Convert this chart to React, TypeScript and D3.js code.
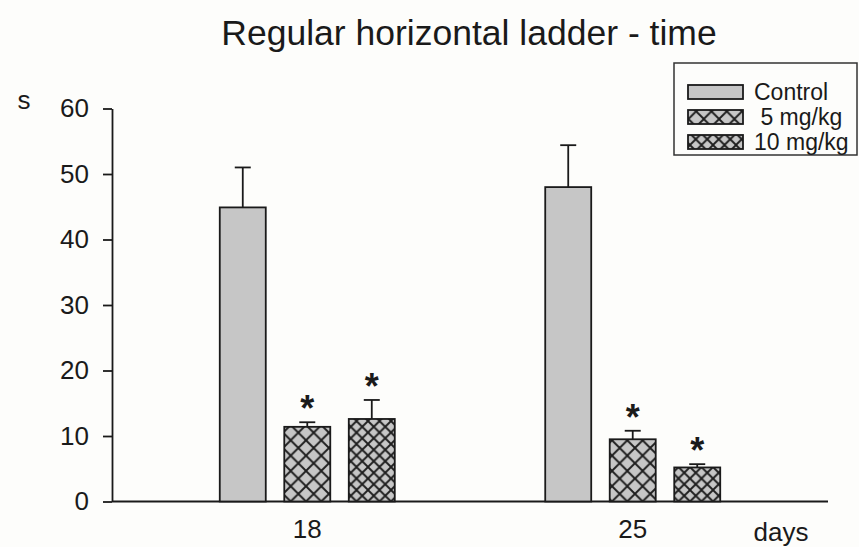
import React, { useEffect, useRef } from 'react';
import * as d3 from 'd3';

// data
const days = ['18', '25'];
const groups = ['Control', ' 5 mg/kg', '10 mg/kg'];
const controlMeans = [44.9, 48.0];
const controlErr = [6.1, 6.4];
const low5Means = [11.4, 9.5];
const low5Err = [0.7, 1.3];
const high10Means = [12.6, 5.2];
const high10Err = [2.9, 0.5];
const significant = [[false, false], [true, true], [true, true]];
const yTicks = [0, 10, 20, 30, 40, 50, 60];

const W = 859;
const H = 547;
const margin = { top: 108.5, right: 31, bottom: 45.5, left: 112 };
const FONT = '"Liberation Sans", Arial, sans-serif';
const INK = '#1a1a1a';
const fills = ['url(#solid)', 'url(#hatch5)', 'url(#hatch10)'];

const App: React.FC = () => {
  const svgRef = useRef<SVGSVGElement>(null);

  useEffect(() => {
    if (!svgRef.current) return;
    const svg = d3.select(svgRef.current);
    svg.selectAll('*').remove();

    const means = [controlMeans, low5Means, high10Means];
    const errs = [controlErr, low5Err, high10Err];

    const x0 = d3.scalePoint<string>()
      .domain(days)
      .range([margin.left, W - margin.right])
      .padding(0.6);
    const x1 = d3.scaleBand<string>()
      .domain(groups)
      .range([-87.5, 87.5])
      .paddingInner(0.287)
      .paddingOuter(0);
    const y = d3.scaleLinear()
      .domain([0, 60])
      .range([H - margin.bottom, margin.top]);

    // patterns
    const defs = svg.append('defs');
    const mkHatch = (id: string, s: number) => {
      const p = defs.append('pattern')
        .attr('id', id)
        .attr('patternUnits', 'userSpaceOnUse')
        .attr('width', s)
        .attr('height', s)
        .attr('x', 0)
        .attr('y', y(0));
      p.append('rect').attr('width', s).attr('height', s).attr('fill', '#c6c6c6');
      p.append('path')
        .attr('d', `M0,0L${s},${s}M${s},0L0,${s}M-1,1L1,-1M${s - 1},${s + 1}L${s + 1},${s - 1}`)
        .attr('stroke', '#1e1e1e')
        .attr('stroke-width', 1.9)
        .attr('fill', 'none');
    };
    const solid = defs.append('pattern')
      .attr('id', 'solid').attr('patternUnits', 'userSpaceOnUse')
      .attr('width', 10).attr('height', 10);
    solid.append('rect').attr('width', 10).attr('height', 10).attr('fill', '#c6c6c6');
    mkHatch('hatch5', 15.3);
    mkHatch('hatch10', 11.5);

    svg.append('rect').attr('width', W).attr('height', H).attr('fill', '#fdfdfb');

    // title
    svg.append('text')
      .attr('x', 469)
      .attr('y', 45)
      .attr('text-anchor', 'middle')
      .attr('font-family', FONT)
      .attr('font-size', 35.5)
      .attr('fill', INK)
      .text('Regular horizontal ladder - time');

    // y axis
    const yAxis = svg.append('g')
      .attr('transform', `translate(${margin.left},0)`)
      .call(d3.axisLeft(y).tickValues(yTicks).tickSize(9).tickPadding(14).tickSizeOuter(0));
    yAxis.selectAll('text')
      .attr('font-family', FONT)
      .attr('font-size', 26)
      .attr('fill', INK);
    yAxis.selectAll('line, path').attr('stroke', INK).attr('stroke-width', 1.8);

    svg.append('text')
      .attr('x', 24).attr('y', y(60))
      .attr('text-anchor', 'middle')
      .attr('font-family', FONT).attr('font-size', 26).attr('fill', INK)
      .text('s');

    // x baseline + labels
    svg.append('line')
      .attr('x1', margin.left).attr('x2', W - margin.right)
      .attr('y1', y(0)).attr('y2', y(0))
      .attr('stroke', INK).attr('stroke-width', 1.8);
    days.forEach(d => {
      svg.append('text')
        .attr('x', x0(d)!).attr('y', 538)
        .attr('text-anchor', 'middle')
        .attr('font-family', FONT).attr('font-size', 26).attr('fill', INK)
        .text(d);
    });
    svg.append('text')
      .attr('x', 781).attr('y', 541)
      .attr('text-anchor', 'middle')
      .attr('font-family', FONT).attr('font-size', 26).attr('fill', INK)
      .text('days');

    // bars, error bars, asterisks
    const g = svg.append('g');
    groups.forEach((grp, gi) => {
      days.forEach((d, di) => {
        const cx = x0(d)! + x1(grp)!;
        const bw = x1.bandwidth();
        const m = means[gi][di];
        const e = errs[gi][di];
        const mid = cx + bw / 2;
        g.append('line')
          .attr('x1', mid).attr('x2', mid)
          .attr('y1', y(m)).attr('y2', y(m + e))
          .attr('stroke', INK).attr('stroke-width', 1.8);
        g.append('line')
          .attr('x1', mid - 8).attr('x2', mid + 8)
          .attr('y1', y(m + e)).attr('y2', y(m + e))
          .attr('stroke', INK).attr('stroke-width', 1.8);
        g.append('rect')
          .attr('x', cx).attr('y', y(m))
          .attr('width', bw).attr('height', y(0) - y(m))
          .attr('fill', fills[gi])
          .attr('stroke', INK).attr('stroke-width', 1.8);
        if (significant[gi][di]) {
          g.append('text')
            .attr('x', mid).attr('y', y(m + e) - 1)
            .attr('text-anchor', 'middle')
            .attr('font-family', FONT).attr('font-size', 36).attr('font-weight', 'bold')
            .attr('fill', INK)
            .text('*');
        }
      });
    });

    // legend
    const lg = svg.append('g');
    lg.append('rect')
      .attr('x', 674).attr('y', 63)
      .attr('width', 183).attr('height', 92)
      .attr('fill', 'none').attr('stroke', '#333').attr('stroke-width', 1.5);
    groups.forEach((grp, gi) => {
      const yy = 85 + gi * 25;
      lg.append('rect')
        .attr('x', 688).attr('y', yy)
        .attr('width', 55).attr('height', 14)
        .attr('fill', fills[gi])
        .attr('stroke', INK).attr('stroke-width', 1.8);
      lg.append('text')
        .attr('x', 754).attr('y', yy + 15)
        .attr('xml:space', 'preserve')
        .style('white-space', 'pre')
        .attr('font-family', FONT).attr('font-size', 23).attr('fill', INK)
        .text(grp);
    });
  }, []);

  return (
    <svg
      ref={svgRef}
      width={W}
      height={H}
      style={{ position: 'absolute', left: 0, top: 0, display: 'block' }}
    />
  );
};

export default App;
